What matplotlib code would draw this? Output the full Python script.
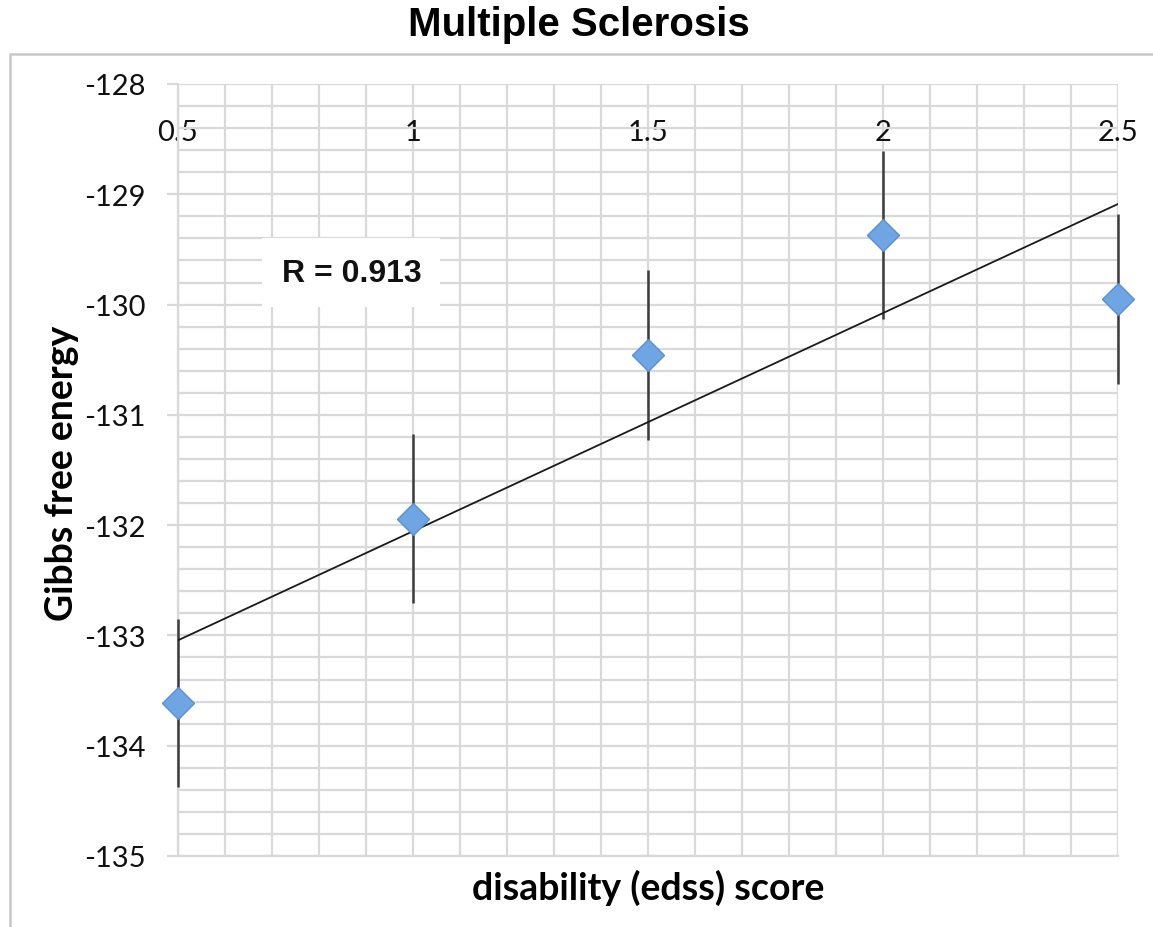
import numpy as np
import matplotlib
matplotlib.use("Agg")
import matplotlib.pyplot as plt
from matplotlib.patches import Rectangle
from matplotlib.ticker import MultipleLocator

# Data
edss = [0.5, 1.0, 1.5, 2.0, 2.5]
gibbs = [-133.61, -131.94, -130.46, -129.37, -129.95]
gibbs_err = [0.76, 0.77, 0.77, 0.76, 0.77]
x_ticks = [0.5, 1, 1.5, 2, 2.5]
x_tick_labels = ["0.5", "1", "1.5", "2", "2.5"]
y_ticks = [-128, -129, -130, -131, -132, -133, -134, -135]
title = "Multiple Sclerosis"
xlabel = "disability (edss) score"
ylabel = "Gibbs free energy"
r_text = "R = 0.913"

W, H = 1153, 928
fig = plt.figure(figsize=(W / 100, H / 100), dpi=100)

# outer chart border
fig.patches.append(Rectangle((10 / W, -0.1), 1.2, 1 - 55 / H + 0.1,
                             transform=fig.transFigure, fill=False,
                             edgecolor="#C8C8C8", linewidth=1.8, zorder=0))

left, right, top, bottom = 178, 1118, 85, 857
ax = fig.add_axes([left / W, 1 - bottom / H, (right - left) / W, (bottom - top) / H])

ax.set_xlim(0.5, 2.5)
ax.set_ylim(-135, -128)

grid_color = "#D9D9D9"
ax.xaxis.set_minor_locator(MultipleLocator(0.1))
ax.yaxis.set_minor_locator(MultipleLocator(0.2))
ax.set_xticks(x_ticks)
ax.set_xticklabels(x_tick_labels)
ax.set_yticks(y_ticks)
ax.set_yticklabels([str(v) for v in y_ticks])
ax.grid(which="both", color=grid_color, linewidth=1.6, zorder=0)
ax.set_axisbelow(True)

for s in ax.spines.values():
    s.set_visible(False)
ax.spines["left"].set_visible(True)
ax.spines["left"].set_color(grid_color)
ax.spines["left"].set_linewidth(1.6)
ax.spines["bottom"].set_visible(True)
ax.spines["bottom"].set_color(grid_color)
ax.spines["bottom"].set_linewidth(1.6)

ax.tick_params(axis="y", which="major", length=8, width=1.6, color=grid_color,
               pad=15, labelsize=21, labelcolor="#111111")
ax.tick_params(axis="y", which="minor", length=0)
ax.tick_params(axis="x", which="both", bottom=False, top=False, labelbottom=False,
               labeltop=True, length=0, pad=-44, labelsize=21, labelcolor="#111111")
for lab in ax.get_xticklabels() + ax.get_yticklabels():
    lab.set_family(["Lato", "DejaVu Sans"])

# error bars
ax.errorbar(edss, gibbs, yerr=gibbs_err, fmt="none", ecolor="#3C3C3C",
            elinewidth=1.8, capsize=0, zorder=3, clip_on=False)

# trendline (linear fit)
coef = np.polyfit(edss, gibbs, 1)
xx = np.array([min(edss), max(edss)])
ax.plot(xx, np.polyval(coef, xx), color="#1A1A1A", linewidth=1.3, zorder=4)

# markers
ax.plot(edss, gibbs, linestyle="none", marker="D", markersize=16,
        markerfacecolor="#6FA5E3", markeredgecolor="#5B8FD0", markeredgewidth=1.0,
        zorder=5, clip_on=False)

# R label with white box
ax.text(0.869, -129.71, r_text, ha="center", va="center", fontsize=23, fontweight="bold",
        family=["Liberation Sans", "DejaVu Sans"], color="#111111", zorder=6,
        bbox=dict(boxstyle="square,pad=0.6", facecolor="white", edgecolor="none"))

# title and axis labels
fig.text(579 / W, 1 - 25 / H, title, ha="center", va="center", fontsize=29,
         fontweight="bold", family=["Liberation Sans", "DejaVu Sans"])
fig.text(648 / W, 1 - 888 / H, xlabel, ha="center", va="center", fontsize=27,
         fontweight="bold", family=["Lato", "DejaVu Sans"])
fig.text(62 / W, 1 - 473 / H, ylabel, ha="center", va="center", fontsize=27,
         fontweight="bold", rotation=90, family=["Lato", "DejaVu Sans"])

fig.savefig("out.png", dpi=100)
